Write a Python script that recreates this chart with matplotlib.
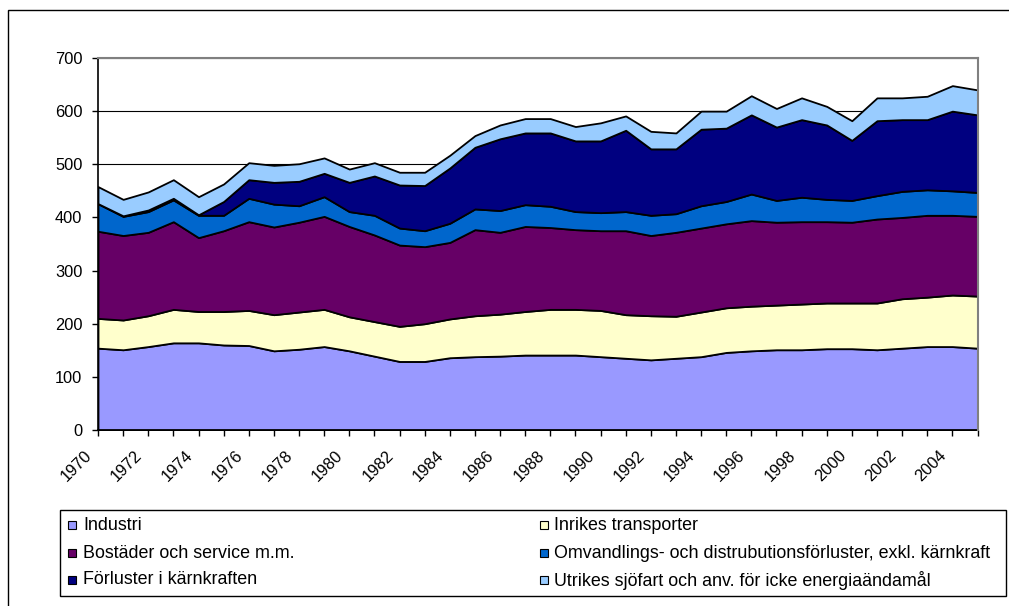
import numpy as np
import matplotlib.pyplot as plt
from matplotlib.patches import Rectangle
from matplotlib.transforms import ScaledTranslation

plt.rcParams['font.family'] = ['Liberation Sans', 'DejaVu Sans']

years = list(range(1970, 2006))

# energianvändning per sektor (TWh)
industri = [154, 151, 157, 164, 164, 160, 159, 149, 152, 157, 149, 139,
            129, 129, 136, 138, 139, 141, 141, 141, 138, 135, 132, 135,
            138, 146, 149, 151, 151, 153, 153, 151, 154, 157, 157, 154]
transporter = [56, 56, 58, 63, 59, 63, 66, 68, 70, 70, 64, 65,
               66, 71, 73, 77, 79, 82, 86, 86, 87, 82, 83, 79,
               84, 84, 84, 84, 86, 86, 86, 88, 93, 93, 97, 98]
bostader = [164, 159, 157, 165, 139, 152, 167, 165, 169, 175, 170, 163,
            153, 145, 144, 162, 154, 160, 154, 150, 150, 158, 151, 158,
            158, 158, 161, 156, 155, 153, 152, 158, 153, 154, 150, 150]
omvandling = [52, 36, 39, 41, 42, 29, 44, 43, 31, 37, 28, 37,
              32, 30, 36, 39, 41, 41, 40, 34, 34, 36, 38, 35,
              42, 42, 50, 41, 46, 42, 41, 44, 49, 48, 46, 45]
karnkraft = [0, 1, 3, 3, 1, 26, 35, 41, 46, 44, 55, 74,
             81, 85, 104, 116, 135, 135, 138, 133, 135, 153, 125, 122,
             144, 138, 149, 138, 146, 140, 113, 141, 135, 132, 150, 146]
utrikes = [32, 31, 34, 35, 34, 33, 32, 32, 33, 29, 25, 25,
           24, 25, 24, 22, 26, 27, 27, 27, 34, 27, 33, 30,
           34, 32, 36, 35, 41, 35, 37, 43, 41, 44, 48, 47]

labels = ['Industri', 'Inrikes transporter', 'Bostäder och service m.m.',
          'Omvandlings- och distrubutionsförluster, exkl. kärnkraft',
          'Förluster i kärnkraften', 'Utrikes sjöfart och anv. för icke energiaändamål']
colors = ['#9999FF', '#FFFFCC', '#660066', '#0066CC', '#000080', '#99CCFF']

W, H = 1009, 606
fig = plt.figure(figsize=(W / 100, H / 100), dpi=100)
ax = fig.add_axes([98 / W, 1 - 430 / H, (977.5 - 98) / W, (430 - 58) / H])

series = [industri, transporter, bostader, omvandling, karnkraft, utrikes]
ax.stackplot(years, *series, colors=colors, edgecolor='black', linewidth=1.3, zorder=2)

ax.set_xlim(1970, 2005)
ax.set_ylim(0, 700)
ax.set_yticks(np.arange(0, 701, 100))
ax.yaxis.grid(True, color='black', linewidth=0.8, zorder=0)
ax.set_axisbelow(True)

ax.set_xticks(years)
ax.set_xticklabels([str(y) if y % 2 == 0 else '' for y in years],
                   rotation=45, ha='right', va='center', rotation_mode='anchor')
ax.tick_params(axis='x', length=4.3, width=1, pad=12, labelsize=11.8, direction='out')
ax.tick_params(axis='y', length=4.3, width=1, pad=7, labelsize=11.8, direction='out')
offset = ScaledTranslation(-0.085, 0, fig.dpi_scale_trans)
for lab in ax.get_xticklabels():
    lab.set_transform(lab.get_transform() + offset)

for s in ['left', 'bottom']:
    ax.spines[s].set_color('black')
    ax.spines[s].set_linewidth(1.2)
for s in ['top', 'right']:
    ax.spines[s].set_color('#808080')
    ax.spines[s].set_linewidth(1.5)
    ax.spines[s].set_zorder(3)

# ram runt hela diagrammet
fig.add_artist(Rectangle((8 / W, -0.1), 1.2, 1.1 - 10 / H, transform=fig.transFigure,
                         fill=False, edgecolor='black', linewidth=1))

# förklaring
fig.add_artist(Rectangle((60 / W, 1 - 596 / H), 946 / W, 86 / H, transform=fig.transFigure,
                         facecolor='white', edgecolor='black', linewidth=1))
rows = [525, 553, 580]
cols = [(68, 83), (540, 554)]
for i, (lab, col) in enumerate(zip(labels, colors)):
    mx, tx = cols[i % 2]
    ry = rows[i // 2]
    fig.add_artist(Rectangle((mx / W, 1 - (ry + 4) / H), 8 / W, 8 / H,
                             transform=fig.transFigure, facecolor=col,
                             edgecolor='black', linewidth=0.8))
    fig.text(tx / W, 1 - ry / H, lab, fontsize=12.9, va='center', ha='left')

fig.savefig('out.png', dpi=100)
